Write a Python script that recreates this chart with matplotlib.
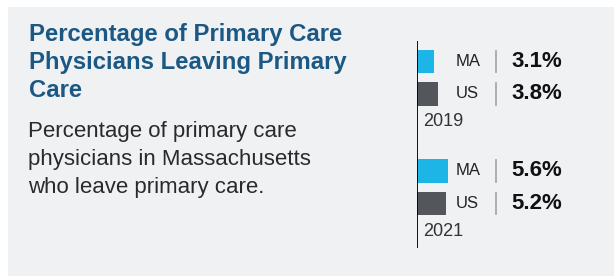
import matplotlib.pyplot as plt
from matplotlib.patches import Rectangle

plt.rcParams['font.family'] = ['Liberation Sans', 'DejaVu Sans']

# data
years = ['2019', '2021']
regions = ['MA', 'US']
values = {'2019': [3.1, 3.8], '2021': [5.6, 5.2]}
bar_colors = ['#1cb5e5', '#53565b']

title_lines = ['Percentage of Primary Care', 'Physicians Leaving Primary', 'Care']
sub_lines = ['Percentage of primary care', 'physicians in Massachusetts', 'who leave primary care.']

W, H = 614, 279
fig = plt.figure(figsize=(W / 100, H / 100), dpi=100)
fig.patch.set_facecolor('white')

def fx(px):
    return px / W

def fy(py):
    return 1 - py / H

# grey panel
fig.patches.append(Rectangle((fx(8), fy(276)), fx(W) - fx(8), fy(7) - fy(276),
                             transform=fig.transFigure, facecolor='#f0f1f3',
                             edgecolor='none', zorder=0))

# title and description
for i, line in enumerate(title_lines):
    fig.text(fx(29), fy(41 + i * 28), line, fontsize=17.2, fontweight='bold',
             color='#1b5884', va='baseline', ha='left', zorder=3)
for i, line in enumerate(sub_lines):
    fig.text(fx(28), fy(137 + i * 28), line, fontsize=16,
             color='#2a2a2a', va='baseline', ha='left', zorder=3)

# bar area
ax_left, ax_top, ax_bot = 416.5, 41, 248
px_per_pct = 5.7
ax = fig.add_axes([fx(ax_left), fy(ax_bot), fx(W - ax_left), fy(ax_top) - fy(ax_bot)])
ax.set_zorder(2)
ax.set_xlim(0, (W - ax_left) / px_per_pct)
ax.set_ylim(5.74, -0.63)
ax.axis('off')
ax.axvline(0, color='black', lw=1.3)

def px_to_x(px):
    return (px - ax_left) / px_per_pct

group_step = 3.37
for g, yr in enumerate(years):
    base = g * group_step
    for s, reg in enumerate(regions):
        y = base + s
        v = values[yr][s]
        ax.barh(y, v, height=0.71, color=bar_colors[s], left=0)
        ax.text(px_to_x(455.5), y, reg, fontsize=12, color='#222222',
                va='center', ha='left')
        ax.plot([px_to_x(496)] * 2, [y - 0.33, y + 0.33], color='#a8a8a8', lw=1.3)
        ax.text(px_to_x(511), y, f'{v}%', fontsize=16, fontweight='bold',
                color='#111111', va='center', ha='left')
    ax.text(px_to_x(423), base + 1.86, yr, fontsize=13, color='#333333',
            va='center', ha='left')

fig.savefig('out.png', dpi=100, facecolor='white')
